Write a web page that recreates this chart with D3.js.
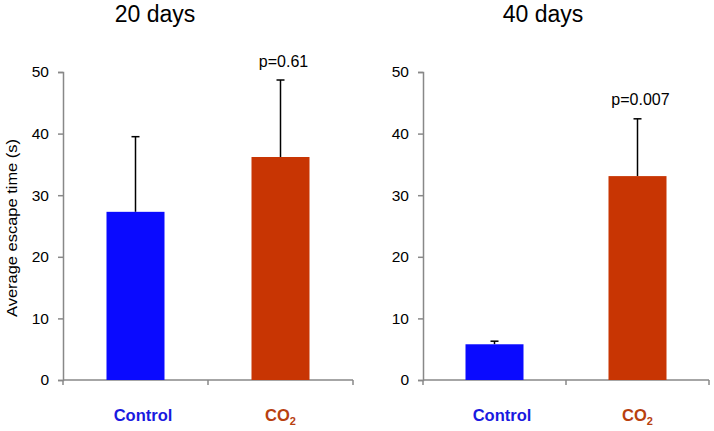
<!DOCTYPE html>
<html><head><meta charset="utf-8">
<script src="https://cdn.jsdelivr.net/npm/d3@7"></script>
<style>body{margin:0;background:#fff}svg{display:block;font-family:"Liberation Sans",Arial,sans-serif}</style>
</head><body><svg id="c" width="714" height="431"></svg>
<script>
const categories = ["Control", "CO2"];
const panels = ["20 days", "40 days"];
const means20 = [27.3, 36.2];
const errors20 = [12.2, 12.5];
const means40 = [5.8, 33.1];
const errors40 = [0.5, 9.3];
const pvalues = ["p=0.61", "p=0.007"];
const yTicks = [0, 10, 20, 30, 40, 50];
const barColors = ["#0a0aff", "#c83503"];
const labelColors = ["#1a1ae0", "#b8400f"];

const svg = d3.select("#c");
const data = [
  {title: panels[0], means: means20, errs: errors20, p: pvalues[0], x0: 63, x1: 353, tx: 155},
  {title: panels[1], means: means40, errs: errors40, p: pvalues[1], x0: 423, x1: 709, tx: 543}
];
const labelShift = [7.5, 0];
const y = d3.scaleLinear().domain([0, 50]).range([380, 72]);

data.forEach((pd, pi) => {
  const g = svg.append("g");
  const xb = d3.scaleBand().domain(categories).range([pd.x0, pd.x1]);
  // y axis
  const ya = g.append("g").attr("transform", `translate(${pd.x0},0)`)
    .call(d3.axisLeft(y).tickValues(yTicks).tickSize(5).tickPadding(9));
  ya.select(".domain").attr("stroke", "#888").attr("stroke-width", 1.5);
  ya.selectAll(".tick line").attr("stroke", "#888").attr("stroke-width", 1.5);
  ya.selectAll(".tick text").attr("font-size", 15.5).attr("fill", "#000")
    .attr("font-family", "Liberation Sans, Arial, sans-serif");
  // x axis line with ticks at band boundaries
  g.append("line").attr("x1", pd.x0).attr("x2", pd.x1).attr("y1", y(0)).attr("y2", y(0))
    .attr("stroke", "#888").attr("stroke-width", 1.5);
  const bounds = [pd.x0].concat(categories.map(c => xb(c) + xb.bandwidth()));
  g.selectAll(".xt").data(bounds).enter().append("line")
    .attr("x1", d => d).attr("x2", d => d).attr("y1", y(0)).attr("y2", y(0) + 5)
    .attr("stroke", "#888").attr("stroke-width", 1.5);
  // error bars
  categories.forEach((c, i) => {
    const cx = xb(c) + xb.bandwidth() / 2;
    const top = pd.means[i] + pd.errs[i];
    g.append("line").attr("x1", cx).attr("x2", cx).attr("y1", y(pd.means[i])).attr("y2", y(top))
      .attr("stroke", "#000").attr("stroke-width", 1.5);
    g.append("line").attr("x1", cx - 4).attr("x2", cx + 4).attr("y1", y(top)).attr("y2", y(top))
      .attr("stroke", "#000").attr("stroke-width", 1.5);
  });
  // bars
  g.selectAll(".bar").data(categories).enter().append("rect")
    .attr("x", (c) => xb(c) + xb.bandwidth() / 2 - 29)
    .attr("width", 58)
    .attr("y", (c, i) => y(pd.means[i]))
    .attr("height", (c, i) => y(0) - y(pd.means[i]))
    .attr("fill", (c, i) => barColors[i]);
  // title
  g.append("text").attr("x", pd.tx).attr("y", 22).attr("text-anchor", "middle")
    .attr("font-size", 23).text(pd.title);
  // p-value
  const cx2 = xb(categories[1]) + xb.bandwidth() / 2;
  const topv = pd.means[1] + pd.errs[1];
  g.append("text").attr("x", cx2 + 3).attr("y", y(topv) - 13.5).attr("text-anchor", "middle")
    .attr("font-size", 16).text(pd.p);
  // category labels
  categories.forEach((c, i) => {
    const cx = xb(c) + xb.bandwidth() / 2;
    const t = g.append("text").attr("x", cx + labelShift[i]).attr("y", 421).attr("text-anchor", "middle")
      .attr("font-size", 16.5).attr("font-weight", "bold").attr("fill", labelColors[i]);
    if (c === "CO2") {
      t.append("tspan").text("CO");
      t.append("tspan").attr("font-size", 11).attr("dy", 4).text("2");
    } else t.text(c);
  });
});
// y label
svg.append("text").attr("transform", "translate(17,228) rotate(-90)").attr("text-anchor", "middle")
  .attr("font-size", 15).attr("textLength", 178).attr("lengthAdjust", "spacingAndGlyphs")
  .text("Average escape time (s)");
</script></body></html>
